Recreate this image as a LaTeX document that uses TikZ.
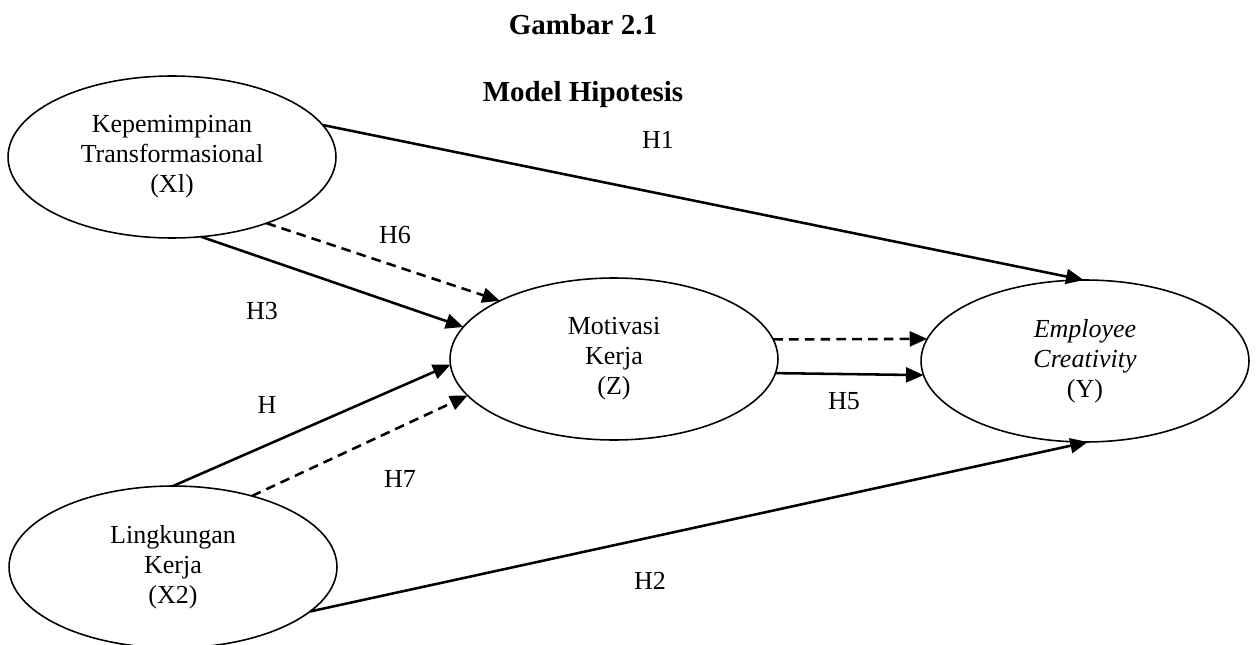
\documentclass[tikz,border=0pt]{standalone}
\usepackage{fontspec}
\setmainfont{Liberation Serif}
\usetikzlibrary{shapes.geometric,arrows.meta}
\begin{document}
\begin{tikzpicture}[x=0.02cm,y=-0.02cm,
    var/.style={draw,ellipse,line width=0.9pt,minimum width=6.56cm,minimum height=3.24cm,
      inner sep=0pt,outer sep=0pt,align=center,font=\fontsize{14.8}{17}\selectfont},
    link/.style={line width=1.45pt,-{Triangle[length=10pt,width=8.5pt]}},
    dlink/.style={link,dash pattern=on 5.5pt off 3.5pt},
    hyp/.style={anchor=base,font=\fontsize{14.8}{17}\selectfont},
    ttl/.style={anchor=base,font=\fontsize{16.5}{19}\selectfont\bfseries}]
    \useasboundingbox (0,0) rectangle (1257,645);
    \node[ttl] (T1) at (583,35) {Gambar 2.1}; \node[ttl] (T2) at (583,102) {Model Hipotesis};
    \node[var] (X1) at (172,157) {Kepemimpinan\\Transformasional\\(Xl)};
    \node[var] (X2) at (173,567) {Lingkungan\\Kerja\\(X2)};
    \node[var] (Z) at (614,359) {Motivasi\\Kerja\\(Z)};
    \node[var] (Y) at (1085,361) {\textit{Employee}\\\textit{Creativity}\\(Y)};
    \draw[link] (X1.12.5) -- (Y.91.4); \draw[dlink] (X1.-35.4) -- (Z.153.2);
    \draw[link] (X1.-70.7) -- (Z.168.4); \draw[link] (X2.90) -- (Z.182.8);
    \draw[dlink] (X2.42.3) -- (Z.194.9); \draw[dlink] (Z.7.6) -- (Y.172.2);
    \draw[link] (Z.-5) -- (Y.185.6); \draw[link] (X2.-18.9) -- (Y.-88.6);
    \node[hyp] (H1) at (658,149) {H1}; \node[hyp] (H2) at (650,589) {H2};
    \node[hyp] (H3) at (262,319) {H3}; \node[hyp] (H4) at (267,413) {H};
    \node[hyp] (H5) at (844,409) {H5}; \node[hyp] (H6) at (395,243) {H6};
    \node[hyp] (H7) at (400,487) {H7};
  \end{tikzpicture}
\end{document}
